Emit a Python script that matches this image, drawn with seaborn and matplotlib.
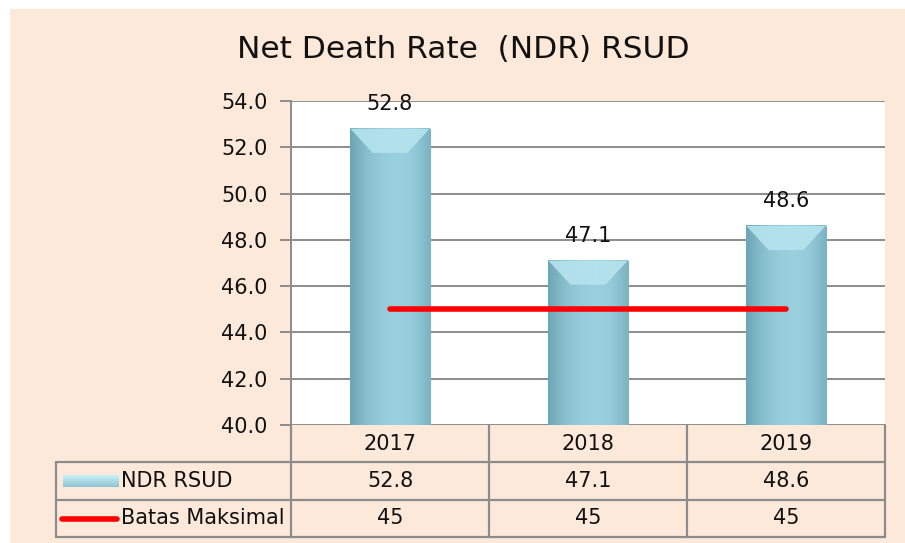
import numpy as np
import pandas as pd
import matplotlib
matplotlib.use("Agg")
import matplotlib.pyplot as plt
from matplotlib.patches import Polygon, Rectangle
from matplotlib.colors import LinearSegmentedColormap
import seaborn as sns

years = ["2017", "2018", "2019"]
ndr = [52.8, 47.1, 48.6]
batas = [45, 45, 45]
series_names = ["NDR RSUD", "Batas Maksimal"]
y_ticks = [40.0, 42.0, 44.0, 46.0, 48.0, 50.0, 52.0, 54.0]

peach = "#FDE9D9"
grid_c = "#8C8C8C"
txt_c = "#111111"

sns.set_style("white")
plt.rcParams["font.family"] = ["DejaVu Sans"]
plt.rcParams["text.color"] = txt_c

W, H = 905, 543
fig = plt.figure(figsize=(W / 100, H / 100), dpi=100)
fig.patch.set_facecolor("white")
# peach chart area (small white margin top/left like the screenshot)
fig.patches.append(Rectangle((10 / W, 0), 1 - 10 / W, 1 - 9 / H,
                             transform=fig.transFigure, facecolor=peach,
                             edgecolor="none", zorder=-10))

ax = fig.add_axes([291 / W, 1 - 425 / H, 594 / W, 324 / H])
ax.set_facecolor("white")

df = pd.DataFrame({"year": years, "ndr": ndr})
sns.barplot(data=df, x="year", y="ndr", color="#92CBD9", width=0.4,
            edgecolor="#7FB3C2", linewidth=0.8, ax=ax, zorder=3)

ax.set_ylim(y_ticks[0], y_ticks[-1])
ax.set_xlim(-0.5, len(years) - 0.5)
ax.set_yticks(y_ticks)
ax.set_yticklabels([f"{t:.1f}" for t in y_ticks], fontsize=15, color=txt_c)
ax.yaxis.grid(True, color=grid_c, linewidth=1.4)
ax.set_axisbelow(True)
ax.tick_params(axis="y", length=8, width=1.4, color=grid_c, pad=9, left=True)
ax.set_xticks([])
ax.set_xlabel("")
ax.set_ylabel("")
for s in ["top", "right", "bottom"]:
    ax.spines[s].set_visible(False)
ax.spines["left"].set_color(grid_c)
ax.spines["left"].set_linewidth(1.4)

# bevel shading on each bar
cmap = LinearSegmentedColormap.from_list(
    "bev", ["#6FA6B6", "#86BFCE", "#94CCDA", "#9AD1DE", "#93CCD9", "#7DB4C3"])
grad = np.linspace(0, 1, 64).reshape(1, -1)
ymin = ax.get_ylim()[0]
px = (ax.get_ylim()[1] - ymin) / 324  # data units per pixel
for p, v in zip(ax.patches, ndr):
    x0, w = p.get_x(), p.get_width()
    top = p.get_y() + p.get_height()
    bot = max(p.get_y(), ymin)
    ax.imshow(grad, cmap=cmap, aspect="auto", zorder=3.5,
              extent=[x0, x0 + w, bot, top], interpolation="bicubic")
    bev = 24 * px
    ax.add_patch(Polygon([[x0, top], [x0 + w, top],
                          [x0 + w * 0.72, top - bev], [x0 + w * 0.28, top - bev]],
                         closed=True, facecolor="#B6E4EE", edgecolor="none",
                         alpha=0.9, zorder=3.7))
    ax.text(x0 + w / 2, v + 0.65, f"{v:.1f}", ha="center", va="bottom",
            fontsize=15, color=txt_c, zorder=5)

ax.plot(range(len(years)), batas, color="#FF0000", linewidth=4,
        solid_capstyle="round", zorder=6)
ax.set_xlim(-0.5, len(years) - 0.5)
ax.set_ylim(y_ticks[0], y_ticks[-1])

fig.suptitle("Net Death Rate  (NDR) RSUD", x=463 / W, y=1 - 50 / H,
             va="center", fontsize=22.5, color=txt_c)

# data table below the plot
tx = fig.add_axes([0, 0, 1, 1], facecolor="none")
tx.axis("off")
left_col, x_start, x_end = 56, 291, 885
rows_y = [425, 462, 500, 537]
col_w = (x_end - x_start) / len(years)
cols_x = [x_start + i * col_w for i in range(len(years) + 1)]
lk = dict(color=grid_c, linewidth=1.6)
for x in cols_x:
    tx.plot([x, x], [rows_y[0], rows_y[-1]], **lk)
tx.plot([left_col, left_col], [rows_y[1], rows_y[-1]], **lk)
for y in rows_y[1:]:
    tx.plot([left_col, x_end], [y, y], **lk)
for i, yr in enumerate(years):
    cx = cols_x[i] + col_w / 2
    tx.text(cx, (rows_y[0] + rows_y[1]) / 2, yr, ha="center", va="center", fontsize=15)
    tx.text(cx, (rows_y[1] + rows_y[2]) / 2, f"{ndr[i]:.1f}", ha="center", va="center", fontsize=15)
    tx.text(cx, (rows_y[2] + rows_y[3]) / 2, f"{batas[i]:g}", ha="center", va="center", fontsize=15)
# legend keys in the row headers
r1 = (rows_y[1] + rows_y[2]) / 2
r2 = (rows_y[2] + rows_y[3]) / 2
tx.imshow(np.linspace(0, 1, 32).reshape(-1, 1), aspect="auto",
          cmap=LinearSegmentedColormap.from_list("k", ["#C8F2F8", "#8FC4D2"]),
          extent=[63, 118, r1 + 6, r1 - 6], zorder=3)
tx.plot([62, 117], [r2, r2], color="#FF0000", linewidth=4, solid_capstyle="round")
tx.text(121, r1, series_names[0], ha="left", va="center", fontsize=15)
tx.text(121, r2, series_names[1], ha="left", va="center", fontsize=15)
tx.set_xlim(0, W)
tx.set_ylim(H, 0)

fig.savefig("out.png", dpi=100, facecolor=fig.get_facecolor())
